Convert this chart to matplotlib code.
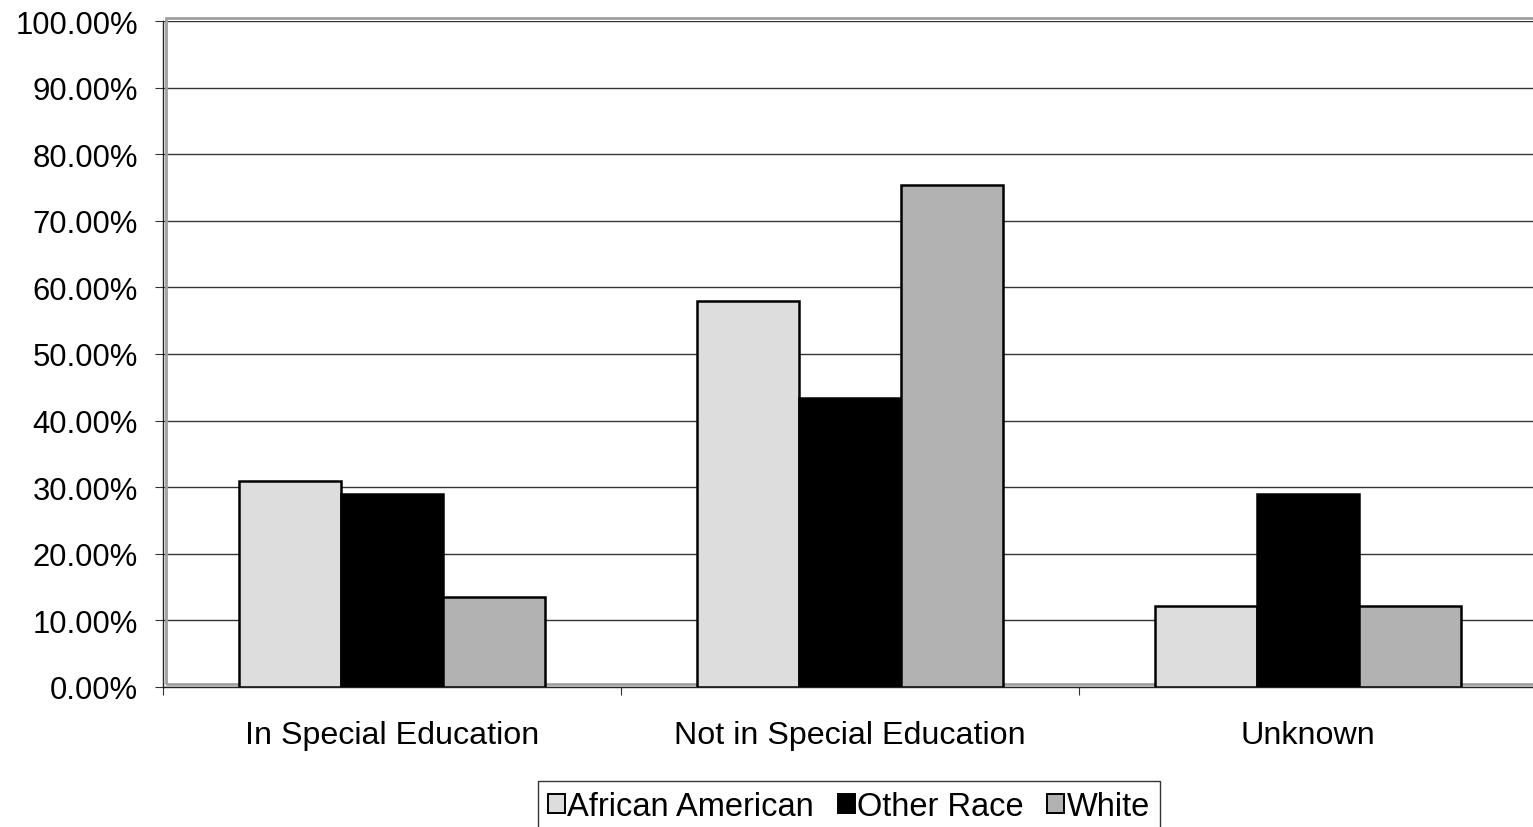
import matplotlib
matplotlib.use("Agg")
import matplotlib.pyplot as plt
import numpy as np
from matplotlib.patches import Rectangle, Patch
from matplotlib.ticker import FuncFormatter, FixedLocator

categories = ["In Special Education", "Not in Special Education", "Unknown"]
series_names = ["African American", "Other Race", "White"]
african_american = [30.9, 58.0, 12.2]
other_race = [29.0, 43.4, 29.0]
white = [13.5, 75.4, 12.2]
series_values = [african_american, other_race, white]
series_colors = ["#DDDDDD", "#000000", "#B2B2B2"]
y_ticks = [0, 10, 20, 30, 40, 50, 60, 70, 80, 90, 100]

plt.rcParams['font.family'] = ['Liberation Sans', 'DejaVu Sans']

fig = plt.figure(figsize=(15.33, 8.28), dpi=100)
ax = fig.add_axes([163/1533, 140/828, (1537-163)/1533, 666/828])

n = len(categories)
x = np.arange(n)
bw = 1 / 4.5
for i, (vals, col) in enumerate(zip(series_values, series_colors)):
    ax.bar(x + (i - 1) * bw, vals, width=bw, color=col, edgecolor="black",
           linewidth=1.8, zorder=3, label=series_names[i])

ax.set_xlim(-0.5, n - 0.5)
ax.set_ylim(0, 100)
ax.set_yticks(y_ticks)
ax.yaxis.set_major_formatter(FuncFormatter(lambda v, p: f"{v:.2f}%"))
ax.grid(axis="y", color="#333333", linewidth=1.0, zorder=0)

ax.xaxis.set_major_locator(FixedLocator(np.arange(n + 1) - 0.5))
ax.xaxis.set_major_formatter(FuncFormatter(lambda v, p: ""))
ax.xaxis.set_minor_locator(FixedLocator(x))
ax.set_xticklabels(categories, minor=True)
ax.tick_params(axis="x", which="major", length=6, width=0.8, color="#333333", direction="out")
ax.tick_params(axis="x", which="minor", length=0, pad=24, labelsize=23.2)
ax.tick_params(axis="y", length=6, width=0.8, color="#333333", direction="out", pad=12, labelsize=22.3)

ax.spines["right"].set_visible(False)
ax.spines["top"].set_visible(False)
ax.spines["left"].set_color("#222222")
ax.spines["left"].set_linewidth(1.0)
ax.spines["bottom"].set_color("#222222")
ax.spines["bottom"].set_linewidth(1.0)

# plot-area gray border
border = Rectangle((3/1374, 3/666), 1.2, 1.0, transform=ax.transAxes,
                   fill=False, edgecolor="#A0A0A0", linewidth=2.0, zorder=2, clip_on=False)
ax.add_patch(border)

handles = [Patch(facecolor=c, edgecolor="black", linewidth=1.4) for c in series_colors]
leg = fig.legend(handles, series_names, loc="upper center", bbox_to_anchor=(849/1533, 46/828),
                 ncol=3, frameon=True, fancybox=False, fontsize=23.5, handlelength=0.52,
                 handleheight=0.52, handletextpad=0.08, columnspacing=0.72,
                 borderpad=0.3, borderaxespad=0)
leg.get_frame().set_edgecolor("black")
leg.get_frame().set_linewidth(1.0)

fig.savefig("out.png", dpi=100)
